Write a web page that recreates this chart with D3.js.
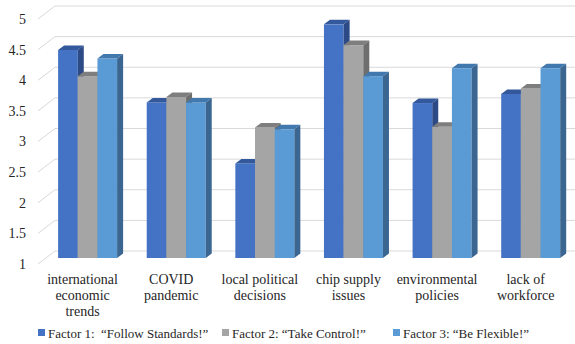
<!DOCTYPE html>
<html>
<head>
<meta charset="utf-8">
<script src="https://cdn.jsdelivr.net/npm/d3@7"></script>
<style>
  html, body { margin: 0; padding: 0; background: #fff; }
</style>
</head>
<body>
<svg id="chart" width="575" height="344"></svg>
<script>
// Categories (each label split into lines)
const categories = [
  "international economic trends",
  "COVID pandemic",
  "local political decisions",
  "chip supply issues",
  "environmental policies",
  "lack of workforce"
];
const categoryLines = [
  ["international", "economic", "trends"],
  ["COVID", "pandemic"],
  ["local political", "decisions"],
  ["chip supply", "issues"],
  ["environmental", "policies"],
  ["lack of", "workforce"]
];
const seriesNames = [
  "Factor 1:  \u201CFollow Standards!\u201D",
  "Factor 2: \u201CTake Control!\u201D",
  "Factor 3: \u201CBe Flexible!\u201D"
];
const factor1 = [4.41, 3.55, 2.55, 4.83, 3.54, 3.69];
const factor2 = [3.98, 3.64, 3.14, 4.49, 3.15, 3.78];
const factor3 = [4.27, 3.55, 3.11, 3.98, 4.11, 4.11];
const yTicks = [1, 1.5, 2, 2.5, 3, 3.5, 4, 4.5, 5];

const seriesValues = [factor1, factor2, factor3];
const frontColors = ["#4472C4", "#A5A5A5", "#5B9BD5"];
const topColors   = ["#33589C", "#7E7E7E", "#4179AF"];
const sideColors  = ["#2C4A85", "#6E6E6E", "#3A6691"];
const textColor = "#262626";
const fontFamily = '"Liberation Serif", "Times New Roman", serif';

const svg = d3.select("#chart");

// 3D geometry: back wall and depth of the floor/side wall
const depthX = 17, depthY = 13;       // front plane = back plane + (-depthX, +depthY)
const barDX = 6, barDY = 4.5;          // bar depth
const backLeft = 55, backRight = 575;

const yBack = d3.scaleLinear().domain([1, 5]).range([251, 6]);
const yBar  = d3.scaleLinear().domain([1, 5]).range([258, 14]);

const x = d3.scaleBand().domain(categories).range([43.3, 575]).paddingInner(0).paddingOuter(0);
const groupW = 59;
const xs = d3.scaleBand().domain(d3.range(3)).range([0, groupW]);

// gridlines on the back wall and side wall
const grid = svg.append("g");
yTicks.forEach(t => {
  const yb = yBack(t);
  grid.append("line")
    .attr("x1", backLeft).attr("x2", backRight)
    .attr("y1", yb).attr("y2", yb)
    .attr("stroke", "#d9d9d9").attr("stroke-width", 1);
  grid.append("line")
    .attr("x1", backLeft - depthX).attr("y1", yb + depthY)
    .attr("x2", backLeft).attr("y2", yb)
    .attr("stroke", "#d9d9d9").attr("stroke-width", 1);
});

// y tick labels
svg.append("g").selectAll("text").data(yTicks).join("text")
  .attr("x", 26)
  .attr("y", d => yBack(d) + depthY)
  .attr("dy", "0.35em")
  .attr("text-anchor", "end")
  .style("font-family", fontFamily)
  .style("font-size", "14px")
  .attr("fill", textColor)
  .text(d => d3.format("")(d));

// bars
const bars = svg.append("g");
categories.forEach((cat, ci) => {
  seriesValues.forEach((vals, si) => {
    const v = vals[ci];
    const x0 = x(cat) + (x.bandwidth() - groupW) / 2 + xs(si);
    const w = xs.bandwidth();
    const yt = yBar(v), yb = yBar(1);
    bars.append("rect")
      .attr("x", x0).attr("y", yt)
      .attr("width", w).attr("height", yb - yt)
      .attr("fill", frontColors[si]);
    bars.append("polygon")
      .attr("points", [[x0, yt], [x0 + w, yt], [x0 + w + barDX, yt - barDY], [x0 + barDX, yt - barDY]].join(" "))
      .attr("fill", topColors[si]);
    bars.append("polygon")
      .attr("points", [[x0 + w, yt], [x0 + w + barDX, yt - barDY], [x0 + w + barDX, yb - barDY], [x0 + w, yb]].join(" "))
      .attr("fill", sideColors[si]);
  });
});

// category labels
const labels = svg.append("g");
categories.forEach((cat, ci) => {
  const cx = x(cat) + x.bandwidth() / 2 - 5;
  const t = labels.append("text")
    .attr("text-anchor", "middle")
    .style("font-family", fontFamily)
    .style("font-size", "14px")
    .attr("fill", textColor);
  categoryLines[ci].forEach((line, li) => {
    t.append("tspan").attr("x", cx).attr("y", 284 + li * 16).text(line);
  });
});

// legend
const legendX = [38, 222, 393];
const legend = svg.append("g");
seriesNames.forEach((name, si) => {
  const g = legend.append("g").attr("transform", `translate(${legendX[si]},333)`);
  g.append("rect").attr("x", 0).attr("y", -4).attr("width", 7).attr("height", 7).attr("fill", frontColors[si]);
  g.append("text").attr("x", 10).attr("y", 0).attr("dy", "0.35em")
    .style("font-family", fontFamily)
    .style("font-size", "13px")
    .style("white-space", "pre")
    .attr("fill", textColor)
    .text(name);
});
</script>
</body>
</html>
